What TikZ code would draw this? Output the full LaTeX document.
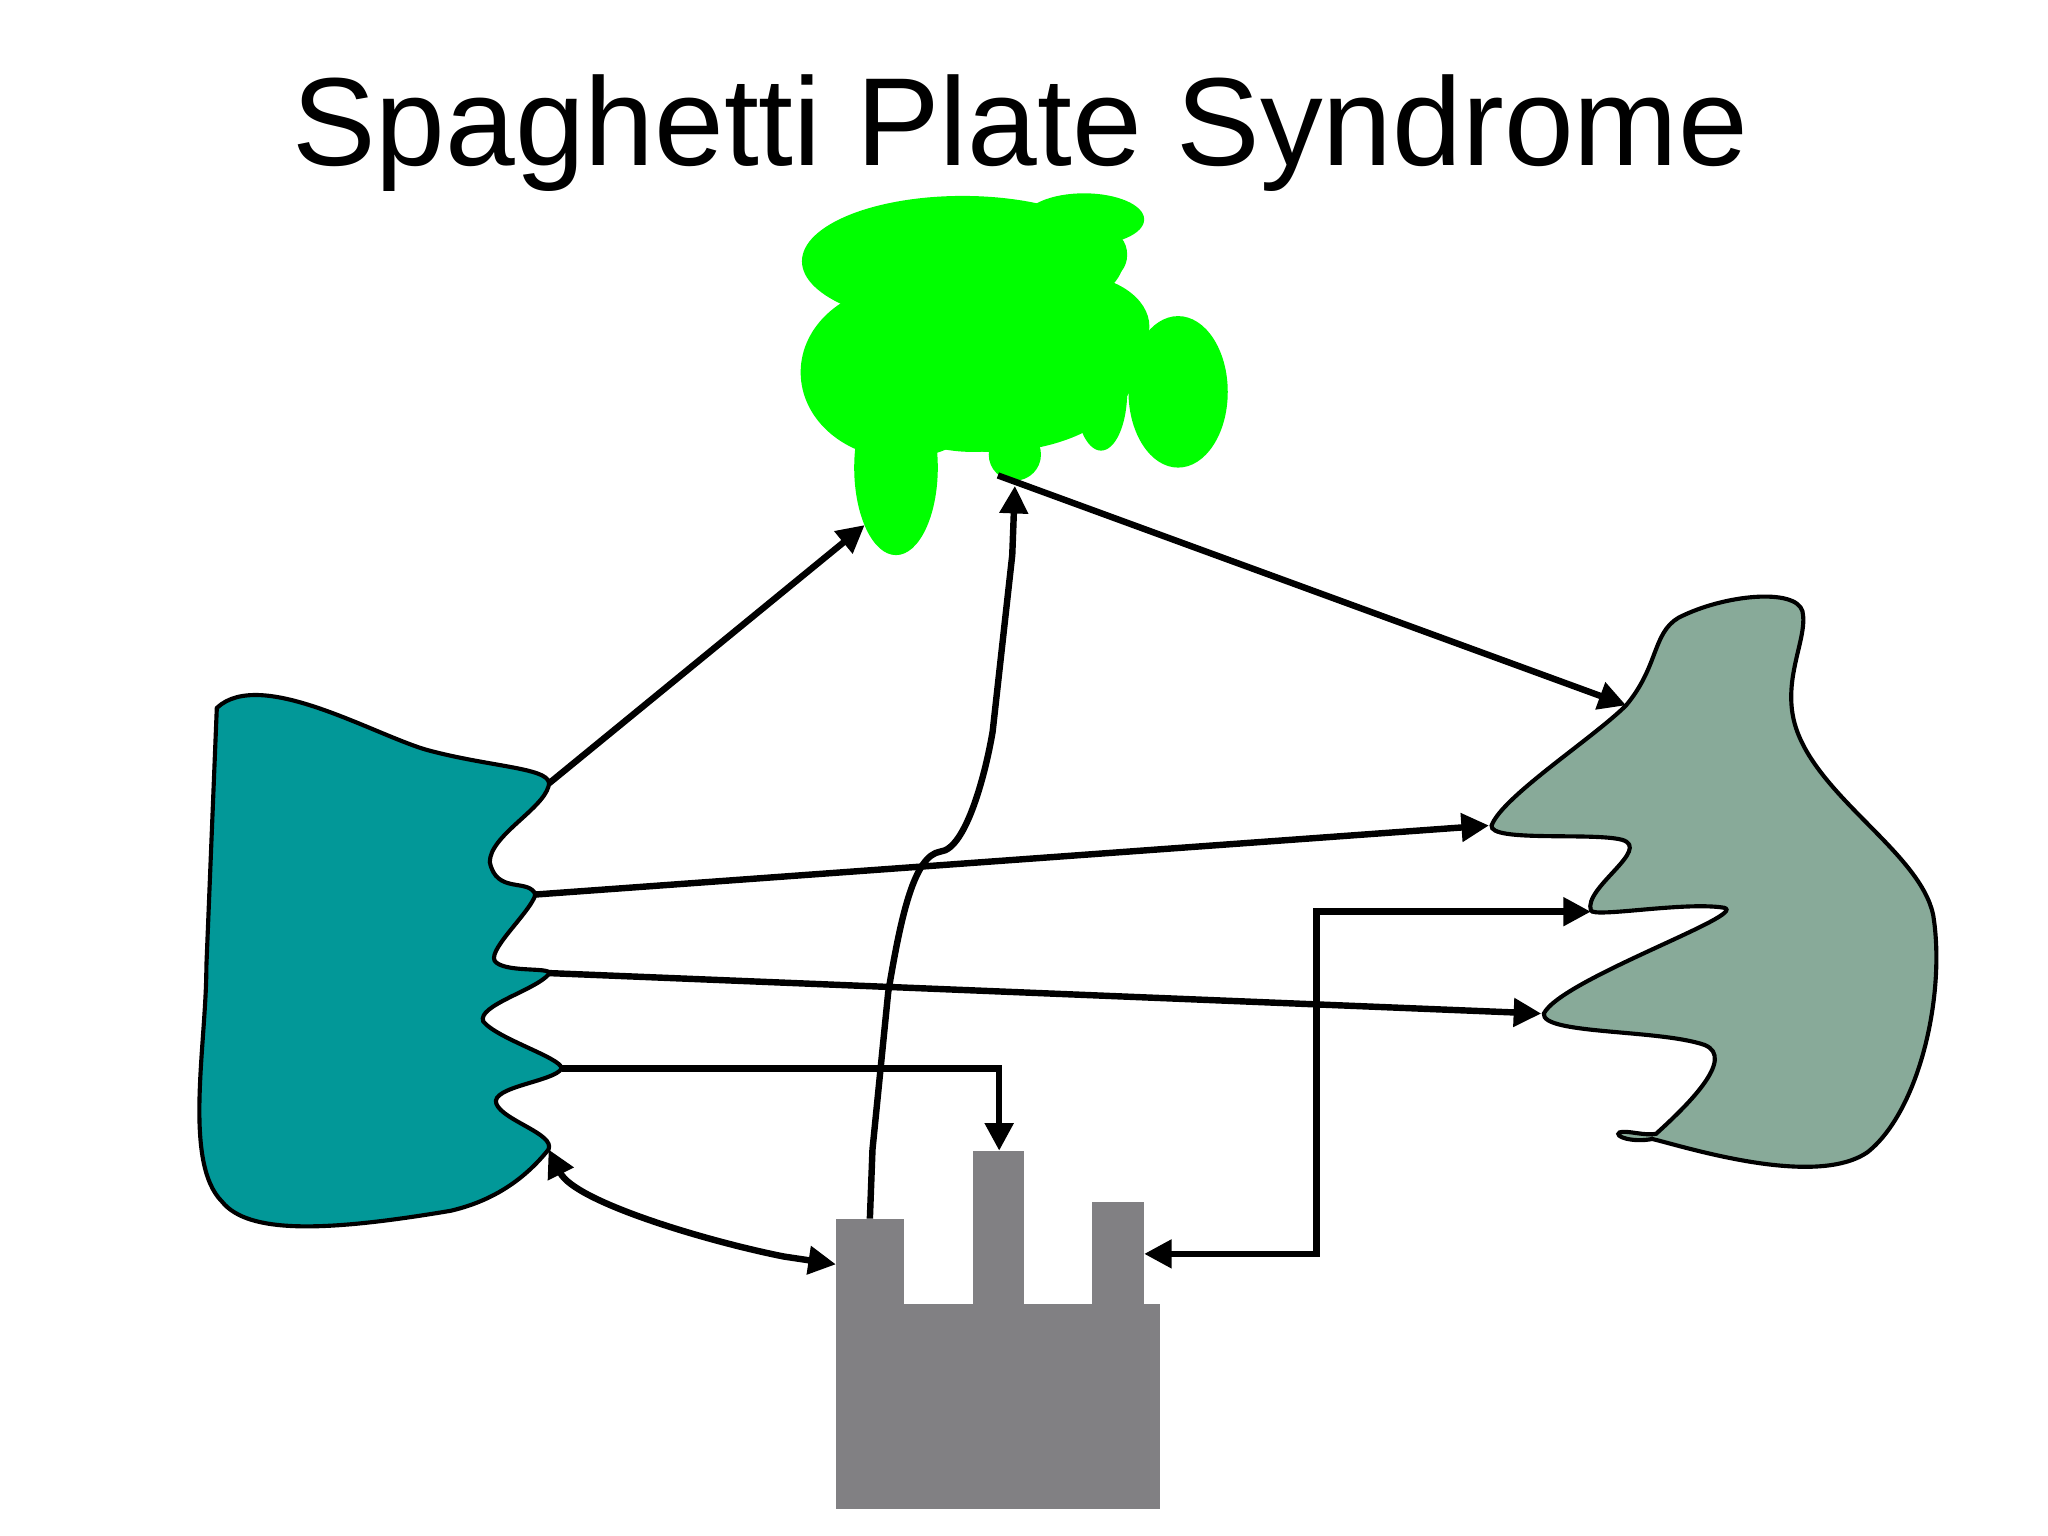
\documentclass[tikz,border=0pt]{standalone}
\usepackage{fontspec}
\setmainfont{Liberation Sans}
\usetikzlibrary{arrows.meta}
\definecolor{blobgreen}{RGB}{0,255,0}
\definecolor{teal2}{RGB}{2,152,152}
\definecolor{sage}{RGB}{136,170,153}
\definecolor{fgray}{RGB}{129,128,131}
\tikzset{link/.style={line width=1.4pt,-{Triangle[length=6pt,width=6pt]}},
 dlink/.style={line width=1.4pt,{Triangle[length=6pt,width=6pt]}-{Triangle[length=6pt,width=6pt]}},
 shapeline/.style={line width=0.9pt}}
\begin{document}
\begin{tikzpicture}[x=0.1mm,y=-0.1mm]
\useasboundingbox (0,0) rectangle (1568,1176);
\node (title) at (781,102) {\fontsize{27.3}{30}\selectfont Spaghetti Plate Syndrome};
% green blob
\begin{scope}[fill=blobgreen]
\fill (737,200) ellipse [x radius=123,y radius=50];
\fill (830,168) ellipse [x radius=46,y radius=20];
\fill (848,195) ellipse [x radius=15,y radius=18];
\fill (690,285) ellipse [x radius=77,y radius=66];
\fill (760,280) ellipse [x radius=110,y radius=66];
\fill (745,318) ellipse [x radius=60,y radius=28];
\fill (820,250) ellipse [x radius=60,y radius=40];
\fill (902,300) ellipse [x radius=38,y radius=58];
\fill (686,358) ellipse [x radius=32,y radius=67];
\fill (843,300) ellipse [x radius=20,y radius=45];
\fill (777,348) ellipse [x radius=20,y radius=20];
\fill (798,318) ellipse [x radius=12,y radius=16];
\end{scope}
\coordinate (gA) at (662,402);
\coordinate (gB) at (777,372);
\coordinate (gC) at (764,364);
% teal shape
\draw[shapeline,fill=teal2] (166,542) .. controls (200,510) and (290,565) .. (330,575)
 .. controls (380,588) and (425,588) .. (420,602)
 .. controls (415,620) and (375,640) .. (375,660)
 .. controls (380,685) and (405,672) .. (410,685)
 .. controls (405,700) and (370,730) .. (380,737)
 .. controls (390,745) and (425,740) .. (420,746)
 .. controls (410,758) and (365,770) .. (370,782)
 .. controls (380,795) and (430,810) .. (430,818)
 .. controls (425,828) and (375,832) .. (380,845)
 .. controls (385,858) and (425,868) .. (420,880)
 .. controls (400,905) and (375,920) .. (345,927)
 .. controls (250,943) and (190,945) .. (170,920)
 .. controls (140,890) and (158,800) .. (158,740) -- cycle;
\coordinate (t1) at (420,600);
\coordinate (t2) at (408,685);
\coordinate (t3) at (420,745);
\coordinate (t4) at (430,818);
\coordinate (t5) at (420,880);
% sage shape
\draw[shapeline,fill=sage] (1245,540) .. controls (1270,510) and (1265,485) .. (1285,473)
 .. controls (1320,455) and (1375,450) .. (1380,468)
 .. controls (1385,490) and (1360,525) .. (1378,565)
 .. controls (1400,615) and (1470,655) .. (1480,700)
 .. controls (1490,760) and (1470,850) .. (1430,882)
 .. controls (1390,910) and (1290,878) .. (1265,872)
 .. controls (1250,875) and (1235,870) .. (1240,867)
 .. controls (1245,865) and (1260,870) .. (1268,868)
 .. controls (1290,848) and (1330,810) .. (1305,800)
 .. controls (1270,788) and (1180,792) .. (1182,776)
 .. controls (1195,750) and (1340,700) .. (1320,695)
 .. controls (1290,690) and (1220,703) .. (1218,697)
 .. controls (1212,680) and (1265,650) .. (1242,643)
 .. controls (1220,637) and (1140,645) .. (1142,632)
 .. controls (1150,610) and (1220,565) .. (1245,540);
\coordinate (s1) at (1245,540);
\coordinate (s2) at (1140,632);
\coordinate (s3) at (1218,698);
\coordinate (s4) at (1180,776);
% factory
\fill[fgray] (640,998) rectangle (888,1155);
\fill[fgray] (640,933) rectangle (692,999);
\fill[fgray] (745,881) rectangle (784,999);
\fill[fgray] (836,920) rectangle (876,999);
\coordinate (f1) at (640,968);
\coordinate (f2) at (765,881);
\coordinate (f3) at (876,960);
\coordinate (f4) at (666,933);
% connectors
\draw[link] (t1) -- (gA);
\draw[link] (t2) -- (s2);
\draw[link] (t3) -- (s4);
\draw[link] (t4) -| (f2);
\draw[dlink] (t5) .. controls (440,920) and (540,950) .. (600,962) -- (f1);
\draw[link] (f4) -- (668,880) -- (680,760) .. controls (690,700) and (700,655) .. (720,652) .. controls (740,650) and (755,590) .. (760,560) -- (775,425) -- (gB);
\draw[link] (gC) -- (s1);
\draw[dlink] (f3) -- (1008,960) |- (s3);
\end{tikzpicture}
\end{document}
